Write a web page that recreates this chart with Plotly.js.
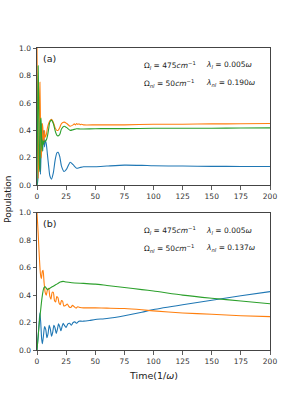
<!DOCTYPE html>
<html><head><meta charset="utf-8">
<script src="https://cdn.plot.ly/plotly-3.0.1.min.js"></script>
<style>html,body{margin:0;padding:0;background:#fff}#chart{width:300px;height:400px}</style>
</head><body><div id="chart"></div>
<script>
// Panel (a)
const aBlueX = [0,0.5,1,1.5,2,2.5,3,3.5,4,4.5,5,5.5,6,6.5,7,8,9,10,11,12.4,14,15.5,17,18.1,19.5,21,23.3,25.5,28.5,31,34,37,40,50,60,75,90,100,125,150,175,200];
const aBlueY = [0,0.02,0.08,0.2,0.3,0.15,0.08,0.25,0.45,0.3,0.25,0.4,0.35,0.28,0.33,0.3,0.22,0.14,0.07,0.045,0.09,0.18,0.235,0.24,0.21,0.14,0.10,0.12,0.168,0.15,0.124,0.13,0.135,0.135,0.14,0.147,0.145,0.142,0.14,0.138,0.137,0.137];
const aOrangeX = [0,0.5,1,1.5,2,2.5,3,3.5,4,4.5,5,5.5,6,6.5,7,8,9,10,11,12.4,14,15.5,17,18.1,19.5,21,23.3,25.5,28.5,31,32,33,34,35,36,37,38,40,50,60,75,100,125,150,175,200];
const aOrangeY = [1.0,0.5,0.05,0.2,0.55,0.75,0.45,0.2,0.25,0.45,0.42,0.3,0.33,0.4,0.35,0.37,0.42,0.45,0.47,0.48,0.46,0.42,0.40,0.40,0.42,0.45,0.46,0.45,0.43,0.44,0.447,0.44,0.45,0.443,0.448,0.442,0.445,0.44,0.44,0.44,0.44,0.445,0.445,0.447,0.448,0.45];
const aGreenX = [0,0.5,1,1.5,2,2.5,3,3.5,4,4.5,5,5.5,6,6.5,7,8,9,10,11,12.4,14,15.5,17,18.1,19.5,21,23.3,25.5,28.5,31,34,37,40,50,60,75,100,125,150,175,200];
const aGreenY = [0,0.48,0.87,0.6,0.15,0.1,0.47,0.49,0.3,0.25,0.33,0.3,0.32,0.32,0.32,0.33,0.36,0.41,0.46,0.475,0.45,0.40,0.365,0.36,0.37,0.41,0.43,0.42,0.40,0.405,0.412,0.41,0.41,0.412,0.413,0.413,0.415,0.415,0.416,0.417,0.418];
// Panel (b)
const bBlueX = [0,1,2,2.5,3.2,4,4.6,5.5,6.5,7.5,8.5,9.5,10.5,11.5,12.5,13.5,14.5,15.5,16.5,17.5,18.5,19.5,20.5,21.5,22.5,23.5,25,26.5,28,29.5,31,32.5,34,36,38,40,45,50,60,75,90,100,125,150,175,200];
const bBlueY = [0,0.1,0.22,0.27,0.2,0.08,0.045,0.1,0.17,0.15,0.09,0.12,0.18,0.15,0.10,0.13,0.18,0.16,0.12,0.15,0.19,0.17,0.14,0.17,0.195,0.18,0.165,0.19,0.195,0.18,0.2,0.205,0.195,0.21,0.21,0.21,0.215,0.222,0.23,0.25,0.275,0.295,0.33,0.362,0.395,0.425];
const bOrangeX = [0,1,2,3,3.8,4.5,5.2,6,7,8,9,10,11,12,13,14,15,16,17,18,19,20,21,22,23,24.5,26,27.5,29,30.5,32,33.5,35,37,40,45,50,60,75,90,100,125,150,175,200];
const bOrangeY = [1.0,0.85,0.68,0.55,0.52,0.57,0.58,0.5,0.42,0.40,0.44,0.45,0.39,0.37,0.42,0.42,0.36,0.35,0.39,0.38,0.34,0.33,0.36,0.355,0.32,0.325,0.335,0.315,0.31,0.325,0.315,0.305,0.315,0.31,0.307,0.307,0.307,0.305,0.302,0.293,0.285,0.27,0.26,0.25,0.243];
const bGreenX = [0,1,2,3,4,5,6,7,8,9,10,12,14,16,18,20,22.4,25,30,40,50,60,75,90,100,125,150,175,200];
const bGreenY = [0,0.1,0.2,0.28,0.36,0.42,0.455,0.46,0.45,0.44,0.445,0.455,0.465,0.475,0.485,0.495,0.50,0.495,0.49,0.485,0.48,0.47,0.455,0.44,0.43,0.40,0.377,0.357,0.337];
const xTicks = [0,25,50,75,100,125,150,175,200];
const yTicks = [0,0.2,0.4,0.6,0.8,1.0];

const C = ['#1f77b4','#ff7f0e','#2ca02c'];
function tr(x,y,c,xa,ya){return {x:x,y:y,mode:'lines',line:{color:c,width:1.1,shape:'spline',smoothing:0.6},xaxis:xa,yaxis:ya,hoverinfo:'skip',showlegend:false};}
const data = [
  tr(aBlueX,aBlueY,C[0],'x','y'), tr(aOrangeX,aOrangeY,C[1],'x','y'), tr(aGreenX,aGreenY,C[2],'x','y'),
  tr(bBlueX,bBlueY,C[0],'x2','y2'), tr(bOrangeX,bOrangeY,C[1],'x2','y2'), tr(bGreenX,bGreenY,C[2],'x2','y2')
];
const F = 'DejaVu Sans, sans-serif';
function xax(anchor){return {range:[0,200],tickvals:xTicks,ticktext:xTicks.map(String),ticks:'outside',ticklen:3.5,tickwidth:0.8,tickcolor:'#333',showline:true,mirror:true,linecolor:'#444',linewidth:1,showgrid:false,zeroline:false,tickfont:{family:F,size:7.5,color:'#333'},anchor:anchor};}
function yax(dom,anchor){return {domain:dom,range:[0,1],tickvals:yTicks,ticktext:yTicks.map(v=>v.toFixed(1)),ticks:'outside',ticklen:3.5,tickwidth:0.8,tickcolor:'#333',showline:true,mirror:true,linecolor:'#444',linewidth:1,showgrid:false,zeroline:false,tickfont:{family:F,size:7.5,color:'#333'},anchor:anchor};}
function ann(t,x,y,xr,yr,sz,anc){return {text:t,x:x,y:y,xref:xr,yref:yr,showarrow:false,xanchor:anc||'left',yanchor:'middle',font:{family:F,size:sz,color:'#222'}};}
const layout = {
  width:300,height:400,paper_bgcolor:'#fff',plot_bgcolor:'#fff',
  margin:{l:37,r:30,t:48,b:50},
  xaxis:xax('y'), yaxis:yax([0.5454,1],'x'),
  xaxis2:xax('y2'), yaxis2:yax([0,0.4546],'x2'),
  annotations:[
    ann('(a)',0.018,0.925,'x domain','y domain',9.5),
    ann('Ω<sub><i>l</i></sub> = 475<i>cm</i><sup>−1</sup>',0.45,0.875,'x domain','y domain',7.5),
    ann('<i>λ<sub>l</sub></i> = 0.005<i>ω</i>',0.715,0.875,'x domain','y domain',7.5),
    ann('Ω<sub><i>nl</i></sub> = 50<i>cm</i><sup>−1</sup>',0.45,0.745,'x domain','y domain',7.5),
    ann('<i>λ<sub>nl</sub></i> = 0.190<i>ω</i>',0.715,0.745,'x domain','y domain',7.5),
    ann('(b)',0.018,0.925,'x2 domain','y2 domain',9.5),
    ann('Ω<sub><i>l</i></sub> = 475<i>cm</i><sup>−1</sup>',0.45,0.87,'x2 domain','y2 domain',7.5),
    ann('<i>λ<sub>l</sub></i> = 0.005<i>ω</i>',0.715,0.87,'x2 domain','y2 domain',7.5),
    ann('Ω<sub><i>nl</i></sub> = 50<i>cm</i><sup>−1</sup>',0.45,0.74,'x2 domain','y2 domain',7.5),
    ann('<i>λ<sub>nl</sub></i> = 0.137<i>ω</i>',0.715,0.74,'x2 domain','y2 domain',7.5),
    {text:'Population',x:-0.125,y:0.5,xref:'paper',yref:'paper',showarrow:false,textangle:-90,font:{family:F,size:9,color:'#222'},xanchor:'center',yanchor:'middle'},
    {text:'Time(1/<i>ω</i>)',x:0.5,y:-0.085,xref:'paper',yref:'paper',showarrow:false,font:{family:F,size:9.5,color:'#222'},xanchor:'center',yanchor:'middle'}
  ]
};
Plotly.newPlot('chart',data,layout,{staticPlot:true,displayModeBar:false});
</script></body></html>
